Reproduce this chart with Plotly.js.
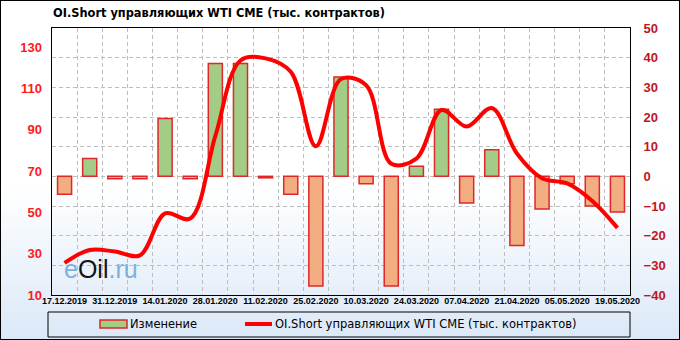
<!DOCTYPE html>
<html>
<head>
<meta charset="utf-8">
<script src="https://cdn.plot.ly/plotly-3.0.1.min.js"></script>
<style>
  html, body { margin:0; padding:0; }
  #wrap { position:relative; width:680px; height:340px;
          background: linear-gradient(to bottom, #ffffff 0%, #ffffff 55%, #dbe8f7 100%); }
  #chart { position:absolute; left:0; top:0; width:680px; height:340px; }
  #frame { position:absolute; left:0; top:0; width:680px; height:340px; box-sizing:border-box;
           border:1px solid #000; pointer-events:none; }
</style>
</head>
<body>
<div id="wrap"><div id="chart"></div><div id="frame"></div></div>
<script>
// ---- data ----
const dates = ['17.12.2019','24.12.2019','31.12.2019','07.01.2020','14.01.2020','21.01.2020',
               '28.01.2020','04.02.2020','11.02.2020','18.02.2020','25.02.2020','03.03.2020',
               '10.03.2020','17.03.2020','24.03.2020','31.03.2020','07.04.2020','14.04.2020',
               '21.04.2020','28.04.2020','05.05.2020','12.05.2020','19.05.2020'];
const change = [-6, 6, -0.8, -0.8, 19.5, -0.8, 38, 38, -0.5, -6, -37, 33.5,
                -2.5, -37, 3.4, 22.6, -9, 9, -23.3, -11, -2.5, -10, -12];
const oiShort = [25.5, 31.8, 31, 29.2, 49.5, 47, 87, 123.5, 124.5, 118, 82, 114.5,
                 111.5, 73.5, 76, 99.5, 91.5, 100.5, 78.5, 66.5, 64, 55.5, 42.5];
const leftTicks = [10, 30, 50, 70, 90, 110, 130];
const chartTitle = 'OI.Short управляющих WTI CME (тыс. контрактов)';
const barName = 'Изменение';
const lineName = 'OI.Short управляющих WTI CME (тыс. контрактов)';

// ---- helpers (pixel -> paper) ----
const PL = 52, PW = 578, PB = 295, PH = 267;
const px = v => (v - PL) / PW;
const py = v => (PB - v) / PH;

const idx = dates.map((d, i) => i);
const labelIdx = idx.filter(i => i % 2 === 0);
const labelText = labelIdx.map(i => dates[i]);

const GREEN = '#a3cd86', ORANGE = '#f2ae80', BORDER = '#e0262b', LINE = '#ff0000';

const barTrace = {
  type: 'bar', x: idx, y: change, name: barName, showlegend: false,
  yaxis: 'y', width: 0.56,
  marker: { color: change.map(v => v >= 0 ? GREEN : ORANGE),
            line: { color: BORDER, width: 1.5 } },
  hoverinfo: 'skip'
};
const lineTrace = {
  type: 'scatter', mode: 'lines', x: idx, y: oiShort, name: lineName, showlegend: false,
  yaxis: 'y2', line: { color: LINE, width: 4, shape: 'spline', smoothing: 1 },
  hoverinfo: 'skip'
};

const gridCol = '#bdbdbd';
const legFont = { family: 'DejaVu Sans', size: 11.5, color: '#000' };
const layout = {
  width: 680, height: 340,
  margin: { l: 52, r: 50, t: 28, b: 45, pad: 0 },
  paper_bgcolor: 'rgba(0,0,0,0)', plot_bgcolor: 'rgba(0,0,0,0)',
  font: { family: 'Liberation Sans, Arial, sans-serif', color: '#000' },
  title: { text: '<b>' + chartTitle + '</b>', xref: 'container', x: 53/680, xanchor: 'left',
           yref: 'container', y: 1 - 13/340, yanchor: 'middle',
           font: { family: 'DejaVu Sans', size: 11.4, color: '#000' } },
  showlegend: false,
  xaxis: {
    range: [-0.5, 22.5], tickmode: 'array', tickvals: labelIdx, ticktext: labelText,
    tickfont: { family: 'Liberation Sans', size: 9, color: '#000', weight: 'bold' },
    showgrid: false, zeroline: false, showline: true, linecolor: '#000', linewidth: 1,
    mirror: true, ticks: '', ticklabelstandoff: -3,
    minor: { tickmode: 'linear', tick0: 0.5, dtick: 1, showgrid: true,
             gridcolor: gridCol, griddash: '4px,3px', gridwidth: 1 }
  },
  yaxis: {
    range: [-40, 50], tickmode: 'linear', tick0: 0, dtick: 10, side: 'right',
    tickfont: { family: 'Liberation Sans', size: 13, color: '#c0161c', weight: 'bold' },
    showgrid: true, gridcolor: gridCol, griddash: '4px,3px', gridwidth: 1,
    zeroline: false, showline: true, linecolor: '#000', linewidth: 1, mirror: true,
    ticks: '', ticklabelstandoff: 10
  },
  yaxis2: {
    overlaying: 'y', side: 'left', range: [10, 139.2], tickmode: 'array', tickvals: leftTicks,
    tickfont: { family: 'Liberation Sans', size: 13, color: '#ff1a1a', weight: 'bold' },
    showgrid: false, zeroline: false, showline: false, ticks: '', ticklabelstandoff: 9
  },
  shapes: [
    // legend frame
    { type: 'rect', xref: 'paper', yref: 'paper',
      x0: px(48), x1: px(630), y0: py(337), y1: py(312),
      line: { color: '#000', width: 1 }, fillcolor: 'rgba(0,0,0,0)' },
    // legend symbol: bar
    { type: 'rect', xref: 'paper', yref: 'paper',
      x0: px(100), x1: px(127), y0: py(328), y1: py(320),
      line: { color: BORDER, width: 1.5 }, fillcolor: GREEN },
    // legend symbol: line
    { type: 'line', xref: 'paper', yref: 'paper',
      x0: px(245), x1: px(272), y0: py(324), y1: py(324),
      line: { color: LINE, width: 4 } }
  ],
  annotations: [
    { xref: 'paper', yref: 'paper', x: px(128), xanchor: 'left', y: py(324), yanchor: 'middle',
      showarrow: false, text: barName, font: legFont },
    { xref: 'paper', yref: 'paper', x: px(273), xanchor: 'left', y: py(324), yanchor: 'middle',
      showarrow: false, text: lineName, font: legFont },
    { xref: 'paper', yref: 'paper', x: px(62), xanchor: 'left',
      y: py(269), yanchor: 'middle', showarrow: false,
      text: '<span style="color:#7fb0de">e</span><span style="color:#141414">Oil</span><span style="color:#7fb0de">.ru</span>',
      font: { family: 'Liberation Sans', size: 25 } }
  ]
};

Plotly.newPlot('chart', [barTrace, lineTrace], layout, { displayModeBar: false, staticPlot: true });
</script>
</body>
</html>
